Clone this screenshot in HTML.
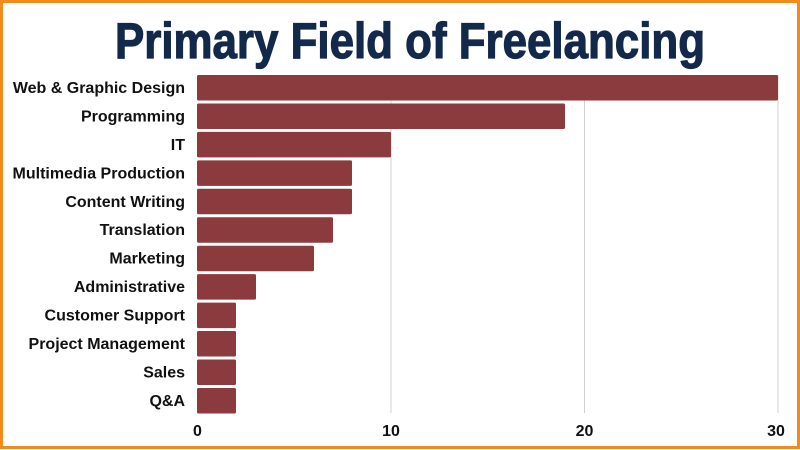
<!DOCTYPE html>
<html><head><style>
html,body{margin:0;padding:0;background:#fff}
</style></head><body>
<svg width="800" height="450" xmlns="http://www.w3.org/2000/svg" style="display:block">
<rect x="0" y="0" width="800" height="450" fill="#fff"/>
<rect x="1.5" y="1.5" width="797" height="446" fill="none" stroke="#f28a1e" stroke-width="3"/>
<text x="410" y="58" text-anchor="middle" font-family="Liberation Sans, sans-serif" font-weight="bold" font-size="50" fill="#13294b" stroke="#13294b" stroke-width="1.2" textLength="590" lengthAdjust="spacingAndGlyphs">Primary Field of Freelancing</text>
<g stroke="#d0d0d0" stroke-width="1">
<line x1="391" y1="75" x2="391" y2="413"/>
<line x1="584.5" y1="75" x2="584.5" y2="413"/>
<line x1="778" y1="75" x2="778" y2="413"/>
</g>
<g fill="#8b3a3e">
<rect x="197" y="75" width="581" height="25.5" rx="1.5"/>
<rect x="197" y="103.45" width="368" height="25.5" rx="1.5"/>
<rect x="197" y="131.9" width="194" height="25.5" rx="1.5"/>
<rect x="197" y="160.35" width="155" height="25.5" rx="1.5"/>
<rect x="197" y="188.8" width="155" height="25.5" rx="1.5"/>
<rect x="197" y="217.25" width="136" height="25.5" rx="1.5"/>
<rect x="197" y="245.7" width="117" height="25.5" rx="1.5"/>
<rect x="197" y="274.15" width="59" height="25.5" rx="1.5"/>
<rect x="197" y="302.6" width="39" height="25.5" rx="1.5"/>
<rect x="197" y="331.05" width="39" height="25.5" rx="1.5"/>
<rect x="197" y="359.5" width="39" height="25.5" rx="1.5"/>
<rect x="197" y="387.95" width="39" height="25.5" rx="1.5"/>
</g>
<g font-family="Liberation Sans, sans-serif" font-weight="bold" font-size="16" fill="#111" text-anchor="end">
<text x="185" y="93">Web &amp; Graphic Design</text>
<text x="185" y="121.4">Programming</text>
<text x="185" y="149.9">IT</text>
<text x="185" y="178.3">Multimedia Production</text>
<text x="185" y="206.8">Content Writing</text>
<text x="185" y="235.2">Translation</text>
<text x="185" y="263.7">Marketing</text>
<text x="185" y="292.1">Administrative</text>
<text x="185" y="320.6">Customer Support</text>
<text x="185" y="349">Project Management</text>
<text x="185" y="377.5">Sales</text>
<text x="185" y="405.9">Q&amp;A</text>
</g>
<g font-family="Liberation Sans, sans-serif" font-weight="bold" font-size="16" fill="#111" text-anchor="middle">
<text x="197.5" y="436">0</text>
<text x="391" y="436">10</text>
<text x="584.5" y="436">20</text>
<text x="776" y="436">30</text>
</g>
</svg>
</body></html>
